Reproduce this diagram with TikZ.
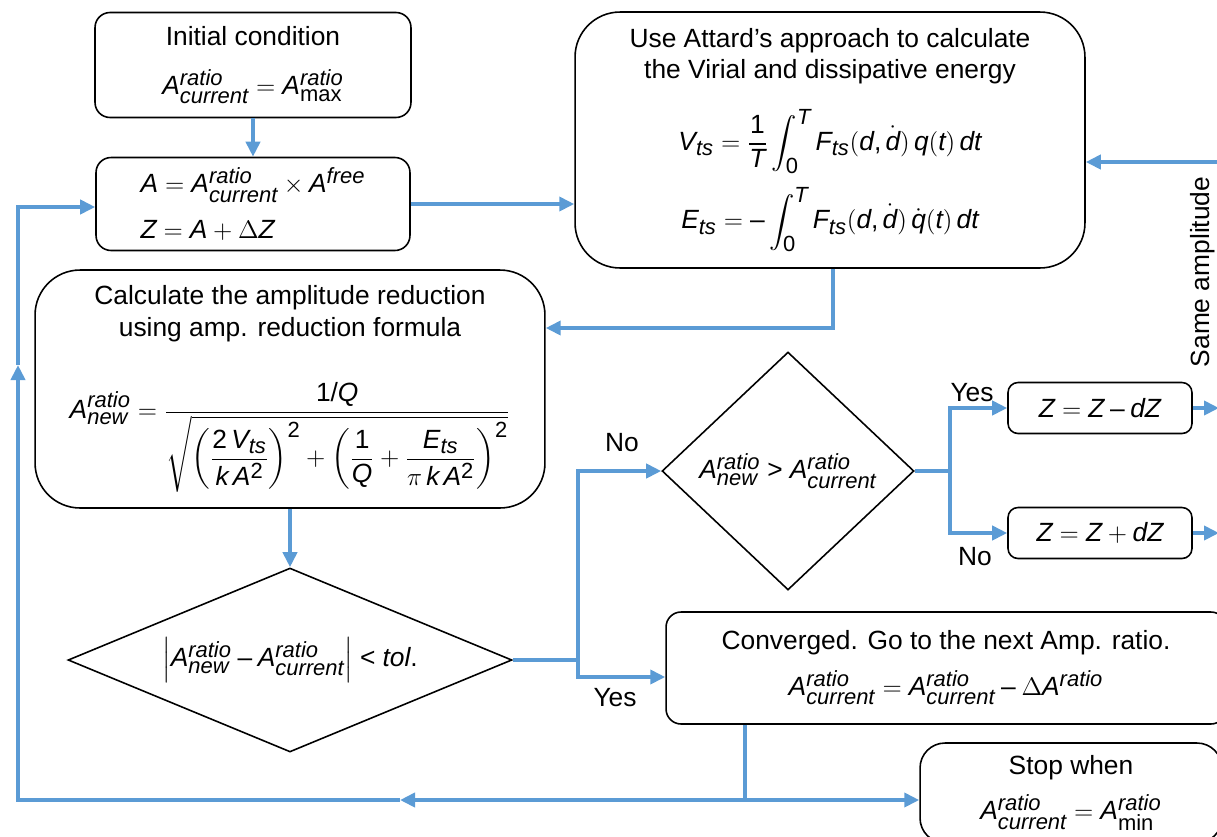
\documentclass[tikz,border=0pt]{standalone}
\usepackage{amsmath}
\usepackage{fontspec}
\setmainfont{Liberation Sans}
\usepackage[italic]{mathastext}
\usepackage{tikz}
\usetikzlibrary{
  arrows.meta,
  positioning,
  shapes.geometric,
  calc
}
\definecolor{flowblue}{RGB}{91,155,213}
\providecommand{\dgt}[1]{\text{#1}}

\begin{document}
\begin{tikzpicture}[
    x=0.02cm, y=-0.02cm,
    font=\fontsize{15}{18}\selectfont,
    box/.style={
        draw,
        rectangle,
        rounded corners=0.3cm,
        align=center,
        line width=0.9pt,
        inner sep=0pt
    },
    bigbox/.style={box, rounded corners=0.9cm},
    decision/.style={draw, diamond, line width=0.9pt, inner sep=0pt},
    line/.style={draw=flowblue, line width=2.4pt},
    arrow/.style={line, -{Triangle[length=0.3cm,width=0.28cm]}},
    lbl/.style={inner sep=1pt}
]
\useasboundingbox (0,0) rectangle (1217,836);

% ----------------------------------------------------------
% NODES
% ----------------------------------------------------------

\node[box, minimum width=6.32cm, minimum height=2.1cm] (init) at (253,65)
    {Initial condition\\[10pt] $A^{ratio}_{current} = A^{ratio}_{\max}$};
\node[box, align=left, minimum width=6.28cm, minimum height=1.86cm] (ampl) at (253,204)
    {$A = A^{ratio}_{current} \times A^{free}$\\[8pt] $Z = A + \Delta Z$};

\node[bigbox, minimum width=10.2cm, minimum height=5.12cm] (attard) at (830,140)
    {Use Attard's approach to calculate\\ the Virial and dissipative energy\\[13pt]
     $\displaystyle V_{ts} = \frac{\dgt{1}}{T}\int_{\dgt{0}}^T F_{ts}(d,\dot d)\,q(t)\,dt$\\[7pt]
     $\displaystyle E_{ts} = -\int_{\dgt{0}}^T F_{ts}(d,\dot d)\,\dot q(t)\,dt$};

\node[bigbox, minimum width=10.2cm, minimum height=4.76cm] (calc) at (290,389)
    {Calculate the amplitude reduction\\ using amp. reduction formula\\[22pt]
     $\displaystyle A^{ratio}_{new} = \frac{\dgt{1}/Q}{\sqrt{\left(\dfrac{\dgt{2}\,V_{ts}}{k\,A^{\dgt{2}}}\right)^{\dgt{2}}
      + \left(\dfrac{\dgt{1}}{Q} + \dfrac{E_{ts}}{\pi\,k\,A^{\dgt{2}}}\right)^{\dgt{2}}}}$};

\node[decision, aspect=2.4, minimum width=8.88cm, minimum height=3.68cm] (tolcheck) at (290,660)
    {$\left|A^{ratio}_{new} - A^{ratio}_{current}\right| < tol.$};
\node[decision, aspect=1.07, minimum width=5.04cm, minimum height=4.76cm] (grow) at (788,471)
    {$A^{ratio}_{new} > A^{ratio}_{current}$};

\node[box, rounded corners=0.2cm, minimum width=3.68cm, minimum height=1.02cm] (zminus) at (1100,408)
    {$Z = Z - dZ$};
\node[box, rounded corners=0.2cm, minimum width=3.68cm, minimum height=1.02cm] (zplus) at (1100,533)
    {$Z = Z + dZ$};

\node[box, minimum width=11.2cm, minimum height=2.24cm] (conv) at (946,668)
    {Converged. Go to the next Amp. ratio.\\[8pt]
     $A^{ratio}_{current} = A^{ratio}_{current} - \Delta A^{ratio}$};
\node[box, rounded corners=0.5cm, minimum width=6.04cm, minimum height=2.0cm] (stop) at (1071,793)
    {Stop when\\[8pt] $A^{ratio}_{current} = A^{ratio}_{\min}$};

\coordinate (back) at (833,328);
\coordinate (fork1) at (578,660);
\coordinate (fork2) at (950,471);
\coordinate (rtop) at (1219,162);
\coordinate (split) at (745,800);
\coordinate (midlow) at (400,800);
\coordinate (lowleft) at (18,800);
\coordinate (midleft) at (18,365);
\coordinate (upleft) at (18,207);

% ----------------------------------------------------------
% ARROWS
% ----------------------------------------------------------

\draw[arrow] (init.south) -- (ampl.north);
\draw[arrow] (ampl.east) -- (ampl.east -| attard.west);
\draw[arrow] (back |- attard.south) -- (back) -- (back -| calc.east);
\draw[arrow] (calc.south) -- (tolcheck.north);

\draw[line] (tolcheck.east) -- (fork1);
\draw[arrow] (fork1) |- (grow.west);
\draw[arrow] (fork1) |- ([yshift=-0.18cm]conv.west);

\draw[line] (grow.east) -- (fork2);
\draw[arrow] (fork2) |- (zminus.west);
\draw[arrow] (fork2) |- (zplus.west);

\draw[arrow] (zminus.east) -- (zminus.east -| rtop);
\draw[arrow] (zplus.east) -- (zplus.east -| rtop);
\draw[line] (rtop |- zplus.east) -- (rtop);
\draw[arrow] (rtop) -- (rtop -| attard.east);

\draw[line] (conv.south -| split) -- (split);
\draw[arrow] (split) -- (split -| stop.west);
\draw[arrow] (split) -- (midlow);
\draw[arrow] (midlow) -- (lowleft) -- (midleft);
\draw[arrow] (midleft) -- (upleft) -- (upleft -| ampl.west);

% ----------------------------------------------------------
% ANNOTATIONS
% ----------------------------------------------------------

\node[lbl] (no1) at (622,443) {No};
\node[lbl] (yes1) at (615,698) {Yes};
\node[lbl] (yes2) at (972,393) {Yes};
\node[lbl] (no2) at (975,557) {No};
\node[rotate=90] (samelbl) at (1203,272) {Same amplitude};

\end{tikzpicture}
\end{document}
